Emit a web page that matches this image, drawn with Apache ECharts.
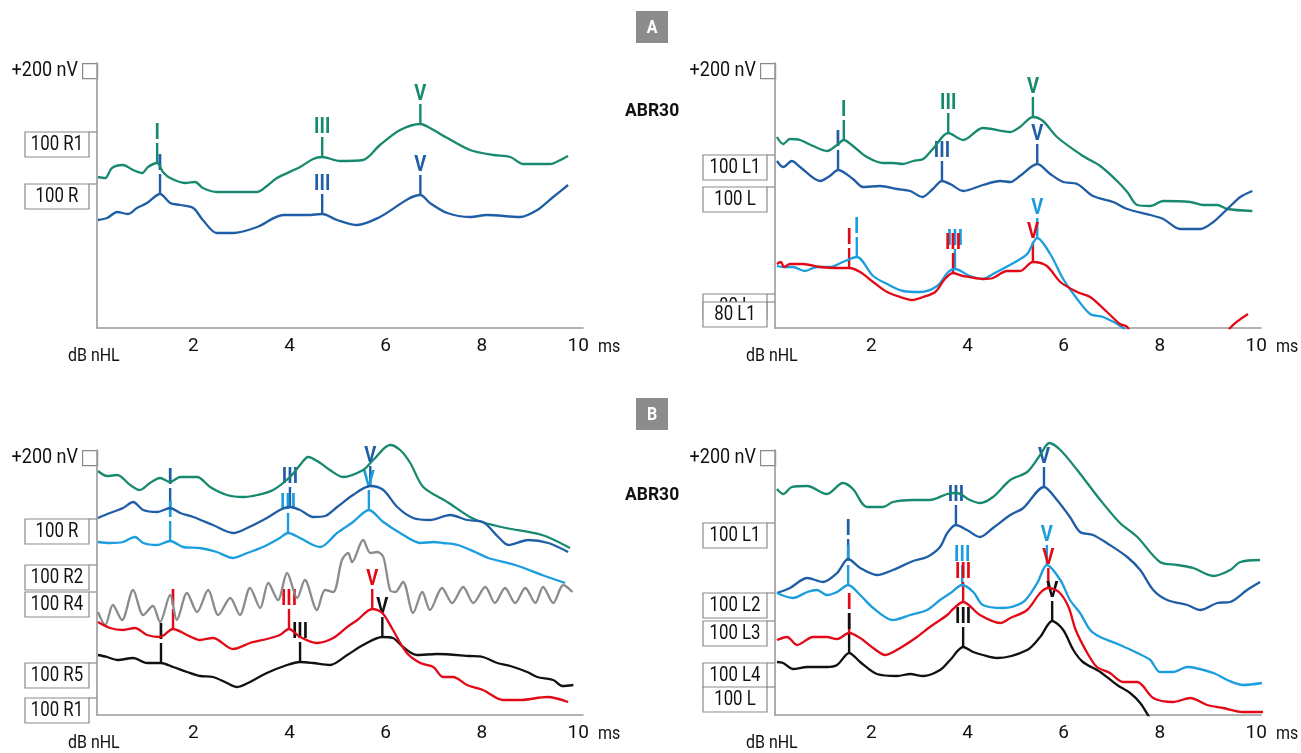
<!DOCTYPE html>
<html>
<head>
<meta charset="utf-8">
<title>ABR</title>
<script src="https://cdn.jsdelivr.net/npm/echarts@6/dist/echarts.min.js"></script>
<style>
  html, body { margin: 0; padding: 0; background: #fff; }
  #chart { width: 1301px; height: 753px; }
</style>
</head>
<body>
<div id="chart"></div>
<script>
var FONT = 'Roboto, "Noto Sans", "DejaVu Sans", sans-serif';
var NARROW = 0.84; // squeeze texts horizontally, the original uses a condensed face
var C = { green: '#17896f', blue: '#1f5ea6', light: '#1b9dde', red: '#e20a16', black: '#111111', gray: '#8b8b8b' };

// x axis tick labels (ms)
var msTicks = [2, 4, 6, 8, 10];

// ---- A, right ear (R) ----
var aLGreen = [[0.02,151],[0.17,150],[0.31,160],[0.54,163],[0.75,158],[0.94,155],[1.06,161],[1.25,165],[1.37,156],[1.52,150],[1.83,145],[2.04,146],[2.2,140],[2.49,136],[3.33,136],[3.53,142],[3.74,150],[4.22,161],[4.49,169],[4.68,171],[5.05,167],[5.53,168],[5.88,183],[6.3,198],[6.72,204],[6.92,200],[7.28,190],[7.75,178],[8.23,173],[8.59,171],[8.86,164],[9.42,164],[9.63,168],[9.79,172]];
var aLBlue = [[0.02,108],[0.21,110],[0.42,116],[0.64,114],[0.83,120],[1.04,125],[1.31,134],[1.52,125],[1.73,123],[2.0,120],[2.2,108],[2.49,95],[2.83,95],[3.33,101],[3.87,113],[4.37,113],[4.68,114],[4.99,108],[5.41,103],[5.88,111],[6.72,133],[6.92,125],[7.28,115],[7.75,111],[8.11,113],[8.79,111],[9.15,118],[9.48,131],[9.79,143]];
var aLGreenPeaks = [[1.25,165,'I'],[4.68,171,'III'],[6.72,204,'V']];
var aLBluePeaks = [[1.31,134,'I'],[4.68,114,'III'],[6.72,133,'V']];
var aLBoxLabels = ['100 R1', '100 R'];
var aLBoxLevels = [196, 144];

// ---- A, left ear (L) ----
var aRGreen = [[0.04,191],[0.17,184],[0.31,189],[0.52,188],[0.79,182],[1.08,177],[1.29,183],[1.43,188],[1.62,182],[1.91,171],[2.25,165],[2.45,165],[2.66,164],[2.87,167],[3.08,169],[3.28,179],[3.6,195],[3.91,188],[4.32,200],[4.89,196],[5.09,201],[5.36,211],[5.57,207],[5.86,191],[6.4,172],[6.76,162],[7.11,147],[7.32,136],[7.53,123],[7.8,122],[8.07,127],[8.63,126],[8.9,123],[9.19,123],[9.4,119],[9.92,117]];
var aRBlue = [[0.04,167],[0.17,161],[0.35,167],[0.52,161],[0.94,147],[1.14,152],[1.31,158],[1.62,149],[1.83,141],[2.18,142],[2.54,139],[2.81,137],[3.06,131],[3.28,139],[3.47,147],[3.64,144],[3.91,137],[4.32,143],[4.68,147],[4.89,146],[5.09,152],[5.45,164],[5.72,154],[5.99,146],[6.28,144],[6.61,132],[7.03,126],[7.32,119],[7.8,113],[8.07,109],[8.42,99],[8.84,99],[9.11,106],[9.4,119],[9.67,131],[9.92,137]];
var aRLight = [[0.04,62],[0.17,61],[0.37,61],[0.62,57],[0.87,61],[1.14,61],[1.41,66],[1.7,71],[2.04,52],[2.33,44],[2.66,37],[3.01,36],[3.37,42],[3.6,56],[3.74,59],[4.05,52],[4.32,49],[4.53,54],[5.03,67],[5.24,74],[5.45,90],[5.72,74],[5.99,49],[6.28,29],[6.55,14],[6.82,11],[7.21,1],[7.4,-8]];
var aRRed = [[0.04,64],[0.12,66],[0.19,61],[0.31,64],[0.58,64],[0.94,61],[1.29,60],[1.54,60],[1.77,56],[2.04,46],[2.33,36],[2.6,31],[2.85,28],[3.08,31],[3.33,36],[3.53,49],[3.7,55],[3.91,52],[4.32,49],[4.53,50],[4.82,57],[5.09,57],[5.36,66],[5.65,62],[5.93,46],[6.28,36],[6.55,31],[6.9,16],[7.17,4],[7.32,1],[7.6,-25],[8.5,-60],[9.2,-25],[9.46,0],[9.83,14]];
var aRGreenPeaks = [[1.43,188,'I'],[3.6,195,'III'],[5.36,211,'V']];
var aRBluePeaks = [[1.31,158,'I'],[3.47,147,'III'],[5.45,164,'V']];
var aRLightPeaks = [[1.7,71,'I'],[3.74,59,'III'],[5.45,90,'V']];
var aRRedPeaks = [[1.54,60,'I'],[3.7,55,'III'],[5.36,66,'V']];
var aRBoxLabels = ['100 L1', '100 L', '80 L', '80 L1'];
var aRBoxLevels = [173, 141, 34, 26];

// ---- B, right ear (R) ----
var bLGreen = [[0.02,244],[0.21,239],[0.42,240],[0.69,230],[0.89,225],[1.1,232],[1.31,237],[1.52,233],[1.73,238],[2.08,238],[2.35,228],[2.7,220],[3.04,218],[3.33,220],[3.66,225],[4.01,238],[4.22,250],[4.39,258],[4.64,252],[4.84,245],[5.11,238],[5.53,245],[5.74,255],[6.09,270],[6.3,265],[6.51,252],[6.78,228],[7.28,213],[7.75,198],[8.0,193],[8.5,187],[9.25,180],[9.83,167]];
var bLBlue = [[0.02,197],[0.27,202],[0.54,207],[0.75,213],[0.96,205],[1.25,203],[1.52,207],[1.73,202],[2.0,198],[2.41,190],[2.83,182],[3.12,187],[3.53,197],[3.8,205],[4.01,208],[4.22,205],[4.49,198],[4.74,199],[4.99,208],[5.32,220],[5.68,229],[5.95,225],[6.24,208],[6.57,197],[6.92,195],[7.34,200],[7.69,195],[8.02,193],[8.34,178],[8.55,170],[8.96,175],[9.38,172],[9.79,163]];
var bLLight = [[0.02,173],[0.27,172],[0.54,173],[0.79,178],[0.96,172],[1.25,170],[1.52,174],[1.79,168],[2.14,167],[2.49,163],[2.83,157],[3.12,162],[3.45,168],[3.8,177],[3.97,182],[4.22,177],[4.49,170],[4.64,168],[4.99,182],[5.32,193],[5.65,205],[5.95,193],[6.3,182],[6.72,172],[6.99,173],[7.19,172],[7.5,170],[7.86,163],[8.13,157],[8.69,150],[9.25,140],[9.73,132]];
var bLGray = [[0.02,103],[0.17,90],[0.33,110],[0.52,95],[0.75,125],[0.96,100],[1.16,109],[1.31,93],[1.52,120],[1.66,95],[1.87,122],[2.08,103],[2.31,125],[2.52,100],[2.77,117],[2.97,100],[3.18,127],[3.39,107],[3.56,132],[3.76,115],[3.95,142],[4.16,117],[4.32,135],[4.57,105],[4.74,125],[4.91,123],[5.09,155],[5.22,162],[5.3,153],[5.53,175],[5.68,162],[5.82,163],[5.95,158],[6.09,125],[6.2,123],[6.36,133],[6.57,102],[6.76,123],[6.92,105],[7.17,127],[7.38,112],[7.61,128],[7.82,112],[8.07,128],[8.27,112],[8.48,127],[8.69,112],[8.9,127],[9.11,112],[9.27,128],[9.48,112],[9.69,130],[9.88,123]];
var bLRed = [[0.02,93],[0.27,87],[0.54,85],[0.79,87],[1.04,80],[1.31,78],[1.58,86],[1.87,80],[2.14,75],[2.41,77],[2.83,66],[3.18,72],[3.53,76],[3.8,80],[3.99,86],[4.22,78],[4.57,72],[4.91,77],[5.2,88],[5.41,95],[5.72,106],[5.93,102],[6.15,85],[6.44,62],[6.72,52],[6.99,48],[7.19,38],[7.4,38],[7.69,30],[8.02,25],[8.44,15],[8.79,15],[9.36,18],[9.79,13]];
var bLBlack = [[0.02,60],[0.21,58],[0.42,55],[0.75,57],[1.04,52],[1.33,52],[1.58,48],[1.87,43],[2.14,39],[2.41,38],[2.7,32],[2.91,28],[3.18,33],[3.53,42],[3.95,50],[4.22,53],[4.49,52],[4.84,50],[5.2,60],[5.53,70],[5.93,78],[6.15,77],[6.36,68],[6.65,60],[7.07,61],[7.75,59],[8.02,58],[8.32,52],[8.59,49],[8.94,43],[9.15,38],[9.48,35],[9.67,29],[9.9,30]];
var bLBluePeaks = [[1.52,207,'I'],[4.01,208,'III'],[5.68,229,'V']];
var bLLightPeaks = [[1.52,174,'I'],[3.97,182,'III'],[5.65,205,'V']];
var bLRedPeaks = [[1.58,86,'I'],[3.99,86,'III'],[5.72,106,'V']];
var bLBlackPeaks = [[1.33,52,'I'],[4.22,53,'III'],[5.93,78,'V']];
var bLBoxLabels = ['100 R', '100 R2', '100 R4', '100 R5', '100 R1'];
var bLBoxLevels = [196, 150, 123, 52, 17];

// ---- B, left ear (L) ----
var bRGreen = [[0.04,226],[0.17,221],[0.35,228],[0.67,229],[1.08,221],[1.41,232],[1.62,226],[1.91,208],[2.25,208],[2.45,213],[2.87,215],[3.22,215],[3.58,221],[3.78,222],[4.05,215],[4.26,212],[4.53,218],[4.89,235],[5.24,243],[5.51,260],[5.7,272],[5.93,265],[6.28,245],[6.76,215],[7.17,192],[7.53,178],[8.0,153],[8.36,150],[8.69,147],[9.11,139],[9.46,145],[9.67,153],[10.08,155]];
var bRBlue = [[0.04,122],[0.31,127],[0.67,137],[1.0,133],[1.29,142],[1.52,156],[1.77,147],[2.12,140],[2.45,145],[2.87,154],[3.16,158],[3.43,168],[3.58,182],[3.76,190],[3.99,185],[4.26,178],[4.53,187],[4.89,200],[5.16,207],[5.59,228],[5.86,215],[6.13,198],[6.34,183],[6.61,180],[6.96,170],[7.32,158],[7.59,145],[7.86,125],[8.15,115],[8.57,110],[8.84,105],[9.19,112],[9.46,113],[9.81,125],[10.08,133]];
var bRLight = [[0.04,122],[0.37,117],[0.67,123],[0.87,125],[1.08,120],[1.29,123],[1.52,130],[1.77,120],[2.04,107],[2.45,95],[2.81,100],[3.16,105],[3.43,115],[3.65,122],[3.89,130],[4.12,123],[4.32,110],[4.74,107],[5.16,113],[5.45,132],[5.65,150],[5.93,135],[6.13,115],[6.34,102],[6.55,85],[6.76,78],[7.17,70],[7.53,62],[7.8,55],[8.0,43],[8.27,43],[8.57,48],[9.11,42],[9.4,35],[9.73,30],[10.12,32]];
var bRRed = [[0.04,75],[0.25,78],[0.46,70],[0.79,78],[1.08,78],[1.29,76],[1.54,82],[1.77,77],[2.04,67],[2.29,60],[2.6,67],[2.95,78],[3.22,88],[3.58,100],[3.7,106],[3.91,113],[4.26,100],[4.68,92],[4.89,97],[5.24,105],[5.51,122],[5.68,127],[5.9,123],[6.1,108],[6.25,85],[6.49,62],[6.69,48],[6.96,42],[7.23,33],[7.53,33],[7.86,17],[8.27,13],[8.63,17],[8.98,10],[9.31,7],[9.73,3],[10.15,3]];
var bRBlack = [[0.04,53],[0.17,52],[0.37,46],[0.67,48],[1.08,48],[1.29,50],[1.54,62],[1.77,53],[2.12,41],[2.54,39],[2.81,41],[3.08,39],[3.43,45],[3.64,55],[3.91,68],[4.12,63],[4.32,60],[4.62,57],[5.24,65],[5.51,78],[5.76,94],[5.99,85],[6.2,65],[6.4,53],[6.76,43],[7.11,30],[7.38,22],[7.59,12],[7.75,0],[7.9,-12]];
var bRBluePeaks = [[1.52,156,'I'],[3.76,190,'III'],[5.59,228,'V']];
var bRLightPeaks = [[1.52,130,'I'],[3.89,130,'III'],[5.65,150,'V']];
var bRRedPeaks = [[1.54,82,'I'],[3.91,113,'III'],[5.68,127,'V']];
var bRBlackPeaks = [[1.54,62,'I'],[3.91,68,'III'],[5.76,94,'V']];
var bRBoxLabels = ['100 L1', '100 L2', '100 L3', '100 L4', '100 L'];
var bRBoxLevels = [192, 122, 94, 52, 28];

var panels = [
  { left: 97, top: 63, traces: [
      { data: aLGreen, color: C.green, peaks: aLGreenPeaks },
      { data: aLBlue, color: C.blue, peaks: aLBluePeaks }
    ], boxLabels: aLBoxLabels, boxLevels: aLBoxLevels },
  { left: 775, top: 63, abr: true, traces: [
      { data: aRGreen, color: C.green, peaks: aRGreenPeaks },
      { data: aRBlue, color: C.blue, peaks: aRBluePeaks },
      { data: aRLight, color: C.light, peaks: aRLightPeaks, clip: true },
      { data: aRRed, color: C.red, peaks: aRRedPeaks, clip: true }
    ], boxLabels: aRBoxLabels, boxLevels: aRBoxLevels },
  { left: 97, top: 450, traces: [
      { data: bLGreen, color: C.green },
      { data: bLBlue, color: C.blue, peaks: bLBluePeaks },
      { data: bLLight, color: C.light, peaks: bLLightPeaks },
      { data: bLGray, color: C.gray },
      { data: bLBlack, color: C.black, peaks: bLBlackPeaks },
      { data: bLRed, color: C.red, peaks: bLRedPeaks }
    ], boxLabels: bLBoxLabels, boxLevels: bLBoxLevels },
  { left: 775, top: 450, abr: true, traces: [
      { data: bRGreen, color: C.green },
      { data: bRBlue, color: C.blue, peaks: bRBluePeaks },
      { data: bRLight, color: C.light, peaks: bRLightPeaks },
      { data: bRRed, color: C.red, peaks: bRRedPeaks },
      { data: bRBlack, color: C.black, peaks: bRBlackPeaks, clip: true }
    ], boxLabels: bRBoxLabels, boxLevels: bRBoxLevels }
];

// vertical tick from the peak and the roman numeral above it
function peakRenderer(peaks, color) {
  return function (params, api) {
    var pt = api.coord([api.value(0), api.value(1)]);
    var len = 20;
    return {
      type: 'group',
      children: [
        { type: 'line', shape: { x1: pt[0], y1: pt[1], x2: pt[0], y2: pt[1] - len },
          style: { stroke: color, lineWidth: 2.4 } },
        { type: 'text', x: pt[0], y: pt[1] - len + 1, scaleX: NARROW,
          style: { text: peaks[params.dataIndex][2], fill: color, font: 'bold 22px ' + FONT,
                   align: 'center', verticalAlign: 'bottom' } }
      ]
    };
  };
}

// boxed trace names at the left of the y axis
function boxRenderer(labels) {
  return function (params, api) {
    var pt = api.coord([0, api.value(1)]);
    var x0 = pt[0] - 72;
    return {
      type: 'group',
      children: [
        { type: 'line', shape: { x1: x0 + 64, y1: pt[1], x2: pt[0], y2: pt[1] },
          style: { stroke: '#8a8a8a', lineWidth: 1.2 } },
        { type: 'rect', shape: { x: x0, y: pt[1], width: 64, height: 25 },
          style: { fill: '#fff', stroke: '#8a8a8a', lineWidth: 1.2 } },
        { type: 'text', x: x0 + 32, y: pt[1] + 13, scaleX: NARROW,
          style: { text: labels[params.dataIndex], fill: '#111', font: '20px ' + FONT,
                   align: 'center', verticalAlign: 'middle' } }
      ]
    };
  };
}

function label(x, y, text, font, align, color, sx) {
  return { type: 'text', x: x, y: y, scaleX: sx || NARROW,
    style: { text: text, fill: color || '#111', font: font, align: align, verticalAlign: 'middle' } };
}

var grids = [], xAxes = [], yAxes = [], series = [], graphic = [];

panels.forEach(function (p, i) {
  grids.push({ left: p.left, top: p.top, width: 486, height: 265 });
  xAxes.push({
    gridIndex: i, type: 'value', min: 0, max: 10.1, interval: 2,
    axisLine: { lineStyle: { color: '#9a9a9a', width: 1.6 } },
    axisTick: { show: false }, splitLine: { show: false },
    axisLabel: { color: '#111', fontSize: 19, fontFamily: FONT, margin: 9,
      formatter: function (v) { return msTicks.indexOf(v) >= 0 ? String(v) : ''; } }
  });
  yAxes.push({
    gridIndex: i, type: 'value', min: 0, max: 265,
    axisLine: { show: true, lineStyle: { color: '#9a9a9a', width: 1.6 } },
    axisTick: { show: false }, axisLabel: { show: false }, splitLine: { show: false }
  });

  p.traces.forEach(function (t) {
    series.push({
      type: 'line', xAxisIndex: i, yAxisIndex: i, data: t.data,
      symbol: 'none', smooth: 0.3, clip: !!t.clip, silent: true, animation: false,
      lineStyle: { color: t.color, width: 2.3 }, itemStyle: { color: t.color }
    });
    if (t.peaks) {
      series.push({
        type: 'custom', xAxisIndex: i, yAxisIndex: i, z: 3, silent: true, animation: false,
        data: t.peaks.map(function (k) { return [k[0], k[1]]; }),
        renderItem: peakRenderer(t.peaks, t.color)
      });
    }
  });

  series.push({
    type: 'custom', xAxisIndex: i, yAxisIndex: i, z: 4, silent: true, animation: false,
    data: p.boxLevels.map(function (v) { return [0, v]; }),
    renderItem: boxRenderer(p.boxLabels)
  });

  var bottom = p.top + 265;
  graphic.push(
    { type: 'rect', left: p.left - 15, top: p.top, shape: { width: 15, height: 15 },
      style: { fill: '#fff', stroke: '#8a8a8a', lineWidth: 1.2 } },
    label(p.left - 19, p.top + 8, '+200 nV', '20px ' + FONT, 'right', null, 0.9),
    label(p.left - 29, bottom + 28, 'dB nHL', '19px ' + FONT, 'left'),
    label(p.left + 501, bottom + 19, 'ms', '19px ' + FONT, 'left')
  );
  if (p.abr) {
    graphic.push(label(625, p.top + (i === 1 ? 48 : 45), 'ABR30', 'bold 19px ' + FONT, 'left', null, 0.92));
  }
});

['A', 'B'].forEach(function (letter, k) {
  var y = k === 0 ? 11 : 398;
  graphic.push(
    { type: 'rect', left: 636, top: y, shape: { width: 32, height: 32 }, style: { fill: '#8c8c8c' } },
    label(652, y + 17, letter, 'bold 19px ' + FONT, 'center', '#fff')
  );
});

var chart = echarts.init(document.getElementById('chart'));
chart.setOption({
  backgroundColor: '#fff',
  animation: false,
  grid: grids,
  xAxis: xAxes,
  yAxis: yAxes,
  series: series,
  graphic: graphic
});
</script>
</body>
</html>
